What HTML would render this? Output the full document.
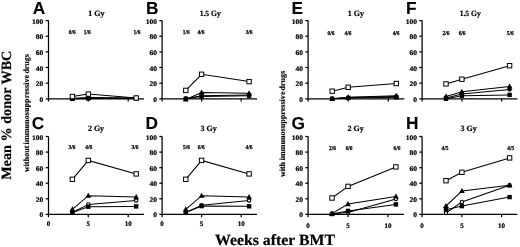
<!DOCTYPE html>
<html><head><meta charset="utf-8"><title>Figure</title>
<style>
html,body{margin:0;padding:0;background:#fff;}
svg{display:block;filter:blur(0.3px)}
text{font-family:"Liberation Serif",serif;font-weight:bold;fill:#000;text-rendering:geometricPrecision}
.yl{font-size:7px;stroke:#000;stroke-width:0.2px}
.xl{font-size:7px;stroke:#000;stroke-width:0.2px}
.fr{font-size:6px;stroke:#000;stroke-width:0.25px}
.tt{font-size:8px;stroke:#000;stroke-width:0.2px}
.pl{font-family:"Liberation Sans",sans-serif;font-size:17.3px;stroke:#000;stroke-width:0.1px}
.big{stroke:#000;stroke-width:0.2px}
.sm{font-size:8px;stroke:#000;stroke-width:0.15px}
</style></head><body>
<svg width="520" height="247" viewBox="0 0 520 247">
<rect width="520" height="247" fill="#fff"/>
<path d="M48.5 20.6V101.6M45.7 98.8H144.1" fill="none" stroke="#000" stroke-width="1.25"/>
<text class="yl" transform="translate(43.4 101.8) scale(1.08 1)" text-anchor="end">0</text>
<path d="M45.7 83.2H48.5" stroke="#000" stroke-width="1.25"/>
<text class="yl" transform="translate(43.4 86.2) scale(1.08 1)" text-anchor="end">20</text>
<path d="M45.7 67.5H48.5" stroke="#000" stroke-width="1.25"/>
<text class="yl" transform="translate(43.4 70.5) scale(1.08 1)" text-anchor="end">40</text>
<path d="M45.7 51.9H48.5" stroke="#000" stroke-width="1.25"/>
<text class="yl" transform="translate(43.4 54.9) scale(1.08 1)" text-anchor="end">60</text>
<path d="M45.7 36.2H48.5" stroke="#000" stroke-width="1.25"/>
<text class="yl" transform="translate(43.4 39.2) scale(1.08 1)" text-anchor="end">80</text>
<path d="M45.7 20.6H48.5" stroke="#000" stroke-width="1.25"/>
<text class="yl" transform="translate(43.4 23.6) scale(1.08 1)" text-anchor="end">100</text>
<path d="M88.3 98.8V101.6" stroke="#000" stroke-width="1.25"/>
<path d="M128.2 98.8V101.6" stroke="#000" stroke-width="1.25"/>
<text class="pl" x="32.8" y="14.1">A</text>
<text class="tt" transform="translate(96.3 16.0) scale(1 1)" text-anchor="middle">1 Gy</text>
<text class="fr" transform="translate(72.3 33.8) scale(0.9 1)" text-anchor="middle">0/6</text>
<text class="fr" transform="translate(87.2 33.8) scale(0.9 1)" text-anchor="middle">1/6</text>
<text class="fr" transform="translate(136.9 33.8) scale(0.9 1)" text-anchor="middle">1/6</text>
<polyline points="72.4,98.4 88.3,98.0 136.2,98.2" fill="none" stroke="#000" stroke-width="1.05"/>
<circle cx="72.4" cy="98.4" r="1.65" fill="#000" stroke="#000" stroke-width="1.1"/>
<circle cx="88.3" cy="98.0" r="1.65" fill="#000" stroke="#000" stroke-width="1.1"/>
<circle cx="136.2" cy="98.2" r="1.65" fill="#000" stroke="#000" stroke-width="1.1"/>
<polyline points="72.4,98.8 88.3,98.4 136.2,98.4" fill="none" stroke="#000" stroke-width="1.05"/>
<rect x="70.2" y="96.6" width="4.4" height="4.4" fill="#000"/>
<rect x="86.1" y="96.2" width="4.4" height="4.4" fill="#000"/>
<rect x="134.0" y="96.2" width="4.4" height="4.4" fill="#000"/>
<polyline points="72.4,98.4 88.3,97.6 136.2,98.0" fill="none" stroke="#000" stroke-width="1.05"/>
<path d="M72.4 95.4L75.3 100.5H69.5Z" fill="#000"/>
<path d="M88.3 94.6L91.2 99.7H85.4Z" fill="#000"/>
<path d="M136.2 95.0L139.1 100.1H133.3Z" fill="#000"/>
<polyline points="72.4,96.5 88.3,94.1 136.2,98.0" fill="none" stroke="#000" stroke-width="1.05"/>
<rect x="70.2" y="94.3" width="4.4" height="4.4" fill="#fff" stroke="#000" stroke-width="1"/>
<rect x="86.1" y="91.9" width="4.4" height="4.4" fill="#fff" stroke="#000" stroke-width="1"/>
<rect x="134.0" y="95.8" width="4.4" height="4.4" fill="#fff" stroke="#000" stroke-width="1"/>
<path d="M162.1 20.6V101.6M159.3 98.8H257.0" fill="none" stroke="#000" stroke-width="1.25"/>
<text class="yl" transform="translate(157.0 101.8) scale(1.08 1)" text-anchor="end">0</text>
<path d="M159.3 83.2H162.1" stroke="#000" stroke-width="1.25"/>
<text class="yl" transform="translate(157.0 86.2) scale(1.08 1)" text-anchor="end">20</text>
<path d="M159.3 67.5H162.1" stroke="#000" stroke-width="1.25"/>
<text class="yl" transform="translate(157.0 70.5) scale(1.08 1)" text-anchor="end">40</text>
<path d="M159.3 51.9H162.1" stroke="#000" stroke-width="1.25"/>
<text class="yl" transform="translate(157.0 54.9) scale(1.08 1)" text-anchor="end">60</text>
<path d="M159.3 36.2H162.1" stroke="#000" stroke-width="1.25"/>
<text class="yl" transform="translate(157.0 39.2) scale(1.08 1)" text-anchor="end">80</text>
<path d="M159.3 20.6H162.1" stroke="#000" stroke-width="1.25"/>
<text class="yl" transform="translate(157.0 23.6) scale(1.08 1)" text-anchor="end">100</text>
<path d="M201.6 98.8V101.6" stroke="#000" stroke-width="1.25"/>
<path d="M241.2 98.8V101.6" stroke="#000" stroke-width="1.25"/>
<text class="pl" x="145.9" y="14.1">B</text>
<text class="tt" transform="translate(210.2 16.0) scale(0.95 1)" text-anchor="middle">1.5 Gy</text>
<text class="fr" transform="translate(186.3 33.8) scale(0.9 1)" text-anchor="middle">1/6</text>
<text class="fr" transform="translate(200.9 33.8) scale(0.9 1)" text-anchor="middle">4/6</text>
<text class="fr" transform="translate(249.1 33.8) scale(0.9 1)" text-anchor="middle">3/6</text>
<polyline points="185.8,98.8 201.6,96.5 249.1,95.7" fill="none" stroke="#000" stroke-width="1.05"/>
<rect x="183.6" y="96.6" width="4.4" height="4.4" fill="#000"/>
<rect x="199.4" y="94.3" width="4.4" height="4.4" fill="#000"/>
<rect x="246.9" y="93.5" width="4.4" height="4.4" fill="#000"/>
<polyline points="185.8,99.5 201.6,92.5 249.1,93.3" fill="none" stroke="#000" stroke-width="1.05"/>
<path d="M185.8 96.5L188.7 101.6H182.9Z" fill="#000"/>
<path d="M201.6 89.5L204.5 94.6H198.7Z" fill="#000"/>
<path d="M249.1 90.3L252.0 95.4H246.2Z" fill="#000"/>
<polyline points="185.8,98.4 201.6,95.7 249.1,94.9" fill="none" stroke="#000" stroke-width="1.05"/>
<circle cx="185.8" cy="98.4" r="1.65" fill="#000" stroke="#000" stroke-width="1.1"/>
<circle cx="201.6" cy="95.7" r="1.65" fill="#000" stroke="#000" stroke-width="1.1"/>
<circle cx="249.1" cy="94.9" r="1.65" fill="#000" stroke="#000" stroke-width="1.1"/>
<polyline points="185.8,90.4 201.6,74.3 249.1,81.6" fill="none" stroke="#000" stroke-width="1.05"/>
<rect x="183.6" y="88.2" width="4.4" height="4.4" fill="#fff" stroke="#000" stroke-width="1"/>
<rect x="199.4" y="72.1" width="4.4" height="4.4" fill="#fff" stroke="#000" stroke-width="1"/>
<rect x="246.9" y="79.4" width="4.4" height="4.4" fill="#fff" stroke="#000" stroke-width="1"/>
<path d="M48.5 136.5V217.2M45.7 214.4H144.1" fill="none" stroke="#000" stroke-width="1.25"/>
<text class="yl" transform="translate(43.4 217.4) scale(1.08 1)" text-anchor="end">0</text>
<path d="M45.7 198.8H48.5" stroke="#000" stroke-width="1.25"/>
<text class="yl" transform="translate(43.4 201.8) scale(1.08 1)" text-anchor="end">20</text>
<path d="M45.7 183.2H48.5" stroke="#000" stroke-width="1.25"/>
<text class="yl" transform="translate(43.4 186.2) scale(1.08 1)" text-anchor="end">40</text>
<path d="M45.7 167.7H48.5" stroke="#000" stroke-width="1.25"/>
<text class="yl" transform="translate(43.4 170.7) scale(1.08 1)" text-anchor="end">60</text>
<path d="M45.7 152.1H48.5" stroke="#000" stroke-width="1.25"/>
<text class="yl" transform="translate(43.4 155.1) scale(1.08 1)" text-anchor="end">80</text>
<path d="M45.7 136.5H48.5" stroke="#000" stroke-width="1.25"/>
<text class="yl" transform="translate(43.4 139.5) scale(1.08 1)" text-anchor="end">100</text>
<path d="M88.3 214.4V217.2" stroke="#000" stroke-width="1.25"/>
<path d="M128.2 214.4V217.2" stroke="#000" stroke-width="1.25"/>
<text class="pl" x="31.8" y="128.8">C</text>
<text class="tt" transform="translate(96.0 131.3) scale(1 1)" text-anchor="middle">2 Gy</text>
<text class="fr" transform="translate(72.0 149.4) scale(0.9 1)" text-anchor="middle">3/6</text>
<text class="fr" transform="translate(88.8 149.4) scale(0.9 1)" text-anchor="middle">4/6</text>
<text class="fr" transform="translate(135.0 149.4) scale(0.9 1)" text-anchor="middle">3/6</text>
<polyline points="72.4,212.5 88.3,204.4 136.2,200.5" fill="none" stroke="#000" stroke-width="1.05"/>
<circle cx="72.4" cy="212.5" r="1.65" fill="#fff" stroke="#000" stroke-width="1.1"/>
<circle cx="88.3" cy="204.4" r="1.65" fill="#fff" stroke="#000" stroke-width="1.1"/>
<circle cx="136.2" cy="200.5" r="1.65" fill="#fff" stroke="#000" stroke-width="1.1"/>
<polyline points="72.4,212.5 88.3,206.7 136.2,206.4" fill="none" stroke="#000" stroke-width="1.05"/>
<rect x="70.2" y="210.3" width="4.4" height="4.4" fill="#000"/>
<rect x="86.1" y="204.5" width="4.4" height="4.4" fill="#000"/>
<rect x="134.0" y="204.2" width="4.4" height="4.4" fill="#000"/>
<polyline points="72.4,209.3 88.3,195.7 136.2,197.1" fill="none" stroke="#000" stroke-width="1.05"/>
<path d="M72.4 206.3L75.3 211.4H69.5Z" fill="#000"/>
<path d="M88.3 192.7L91.2 197.8H85.4Z" fill="#000"/>
<path d="M136.2 194.1L139.1 199.2H133.3Z" fill="#000"/>
<polyline points="72.4,179.3 88.3,160.4 136.2,173.9" fill="none" stroke="#000" stroke-width="1.05"/>
<rect x="70.2" y="177.1" width="4.4" height="4.4" fill="#fff" stroke="#000" stroke-width="1"/>
<rect x="86.1" y="158.2" width="4.4" height="4.4" fill="#fff" stroke="#000" stroke-width="1"/>
<rect x="134.0" y="171.7" width="4.4" height="4.4" fill="#fff" stroke="#000" stroke-width="1"/>
<path d="M162.1 136.5V217.2M159.3 214.4H257.0" fill="none" stroke="#000" stroke-width="1.25"/>
<text class="yl" transform="translate(157.0 217.4) scale(1.08 1)" text-anchor="end">0</text>
<path d="M159.3 198.8H162.1" stroke="#000" stroke-width="1.25"/>
<text class="yl" transform="translate(157.0 201.8) scale(1.08 1)" text-anchor="end">20</text>
<path d="M159.3 183.2H162.1" stroke="#000" stroke-width="1.25"/>
<text class="yl" transform="translate(157.0 186.2) scale(1.08 1)" text-anchor="end">40</text>
<path d="M159.3 167.7H162.1" stroke="#000" stroke-width="1.25"/>
<text class="yl" transform="translate(157.0 170.7) scale(1.08 1)" text-anchor="end">60</text>
<path d="M159.3 152.1H162.1" stroke="#000" stroke-width="1.25"/>
<text class="yl" transform="translate(157.0 155.1) scale(1.08 1)" text-anchor="end">80</text>
<path d="M159.3 136.5H162.1" stroke="#000" stroke-width="1.25"/>
<text class="yl" transform="translate(157.0 139.5) scale(1.08 1)" text-anchor="end">100</text>
<path d="M201.6 214.4V217.2" stroke="#000" stroke-width="1.25"/>
<path d="M241.2 214.4V217.2" stroke="#000" stroke-width="1.25"/>
<text class="pl" x="145.4" y="128.8">D</text>
<text class="tt" transform="translate(208.6 131.3) scale(1 1)" text-anchor="middle">3 Gy</text>
<text class="fr" transform="translate(186.5 149.4) scale(0.9 1)" text-anchor="middle">5/6</text>
<text class="fr" transform="translate(201.3 149.4) scale(0.9 1)" text-anchor="middle">6/6</text>
<text class="fr" transform="translate(248.9 149.4) scale(0.9 1)" text-anchor="middle">4/6</text>
<polyline points="185.8,212.5 201.6,205.2 249.1,200.5" fill="none" stroke="#000" stroke-width="1.05"/>
<circle cx="185.8" cy="212.5" r="1.65" fill="#fff" stroke="#000" stroke-width="1.1"/>
<circle cx="201.6" cy="205.2" r="1.65" fill="#fff" stroke="#000" stroke-width="1.1"/>
<circle cx="249.1" cy="200.5" r="1.65" fill="#fff" stroke="#000" stroke-width="1.1"/>
<polyline points="185.8,212.5 201.6,206.1 249.1,206.3" fill="none" stroke="#000" stroke-width="1.05"/>
<rect x="183.6" y="210.3" width="4.4" height="4.4" fill="#000"/>
<rect x="199.4" y="203.9" width="4.4" height="4.4" fill="#000"/>
<rect x="246.9" y="204.1" width="4.4" height="4.4" fill="#000"/>
<polyline points="185.8,209.3 201.6,195.7 249.1,197.1" fill="none" stroke="#000" stroke-width="1.05"/>
<path d="M185.8 206.3L188.7 211.4H182.9Z" fill="#000"/>
<path d="M201.6 192.7L204.5 197.8H198.7Z" fill="#000"/>
<path d="M249.1 194.1L252.0 199.2H246.2Z" fill="#000"/>
<polyline points="185.8,179.3 201.6,160.4 249.1,173.9" fill="none" stroke="#000" stroke-width="1.05"/>
<rect x="183.6" y="177.1" width="4.4" height="4.4" fill="#fff" stroke="#000" stroke-width="1"/>
<rect x="199.4" y="158.2" width="4.4" height="4.4" fill="#fff" stroke="#000" stroke-width="1"/>
<rect x="246.9" y="171.7" width="4.4" height="4.4" fill="#fff" stroke="#000" stroke-width="1"/>
<path d="M308.1 20.6V101.6M305.3 98.8H404.3" fill="none" stroke="#000" stroke-width="1.25"/>
<text class="yl" transform="translate(303.0 101.8) scale(1.08 1)" text-anchor="end">0</text>
<path d="M305.3 83.2H308.1" stroke="#000" stroke-width="1.25"/>
<text class="yl" transform="translate(303.0 86.2) scale(1.08 1)" text-anchor="end">20</text>
<path d="M305.3 67.5H308.1" stroke="#000" stroke-width="1.25"/>
<text class="yl" transform="translate(303.0 70.5) scale(1.08 1)" text-anchor="end">40</text>
<path d="M305.3 51.9H308.1" stroke="#000" stroke-width="1.25"/>
<text class="yl" transform="translate(303.0 54.9) scale(1.08 1)" text-anchor="end">60</text>
<path d="M305.3 36.2H308.1" stroke="#000" stroke-width="1.25"/>
<text class="yl" transform="translate(303.0 39.2) scale(1.08 1)" text-anchor="end">80</text>
<path d="M305.3 20.6H308.1" stroke="#000" stroke-width="1.25"/>
<text class="yl" transform="translate(303.0 23.6) scale(1.08 1)" text-anchor="end">100</text>
<path d="M348.2 98.8V101.6" stroke="#000" stroke-width="1.25"/>
<path d="M388.3 98.8V101.6" stroke="#000" stroke-width="1.25"/>
<text class="pl" x="291.6" y="14.1">E</text>
<text class="tt" transform="translate(355.9 16.0) scale(1 1)" text-anchor="middle">1 Gy</text>
<text class="fr" transform="translate(331.0 35.1) scale(0.9 1)" text-anchor="middle">0/6</text>
<text class="fr" transform="translate(348.0 35.1) scale(0.9 1)" text-anchor="middle">4/6</text>
<text class="fr" transform="translate(396.1 35.1) scale(0.9 1)" text-anchor="middle">4/6</text>
<polyline points="332.2,98.8 348.2,97.6 396.3,96.5" fill="none" stroke="#000" stroke-width="1.05"/>
<circle cx="332.2" cy="98.8" r="1.65" fill="#000" stroke="#000" stroke-width="1.1"/>
<circle cx="348.2" cy="97.6" r="1.65" fill="#000" stroke="#000" stroke-width="1.1"/>
<circle cx="396.3" cy="96.5" r="1.65" fill="#000" stroke="#000" stroke-width="1.1"/>
<polyline points="332.2,98.8 348.2,98.0 396.3,97.2" fill="none" stroke="#000" stroke-width="1.05"/>
<rect x="330.0" y="96.6" width="4.4" height="4.4" fill="#000"/>
<rect x="346.0" y="95.8" width="4.4" height="4.4" fill="#000"/>
<rect x="394.1" y="95.0" width="4.4" height="4.4" fill="#000"/>
<polyline points="332.2,98.8 348.2,97.2 396.3,95.7" fill="none" stroke="#000" stroke-width="1.05"/>
<path d="M332.2 95.8L335.1 100.9H329.3Z" fill="#000"/>
<path d="M348.2 94.2L351.1 99.3H345.3Z" fill="#000"/>
<path d="M396.3 92.7L399.2 97.8H393.4Z" fill="#000"/>
<polyline points="332.2,91.2 348.2,87.3 396.3,83.5" fill="none" stroke="#000" stroke-width="1.05"/>
<rect x="330.0" y="89.0" width="4.4" height="4.4" fill="#fff" stroke="#000" stroke-width="1"/>
<rect x="346.0" y="85.1" width="4.4" height="4.4" fill="#fff" stroke="#000" stroke-width="1"/>
<rect x="394.1" y="81.3" width="4.4" height="4.4" fill="#fff" stroke="#000" stroke-width="1"/>
<path d="M422.1 20.6V101.6M419.3 98.8H517.5" fill="none" stroke="#000" stroke-width="1.25"/>
<text class="yl" transform="translate(417.0 101.8) scale(1.08 1)" text-anchor="end">0</text>
<path d="M419.3 83.2H422.1" stroke="#000" stroke-width="1.25"/>
<text class="yl" transform="translate(417.0 86.2) scale(1.08 1)" text-anchor="end">20</text>
<path d="M419.3 67.5H422.1" stroke="#000" stroke-width="1.25"/>
<text class="yl" transform="translate(417.0 70.5) scale(1.08 1)" text-anchor="end">40</text>
<path d="M419.3 51.9H422.1" stroke="#000" stroke-width="1.25"/>
<text class="yl" transform="translate(417.0 54.9) scale(1.08 1)" text-anchor="end">60</text>
<path d="M419.3 36.2H422.1" stroke="#000" stroke-width="1.25"/>
<text class="yl" transform="translate(417.0 39.2) scale(1.08 1)" text-anchor="end">80</text>
<path d="M419.3 20.6H422.1" stroke="#000" stroke-width="1.25"/>
<text class="yl" transform="translate(417.0 23.6) scale(1.08 1)" text-anchor="end">100</text>
<path d="M461.9 98.8V101.6" stroke="#000" stroke-width="1.25"/>
<path d="M501.6 98.8V101.6" stroke="#000" stroke-width="1.25"/>
<text class="pl" x="406.0" y="14.1">F</text>
<text class="tt" transform="translate(470.2 16.0) scale(0.95 1)" text-anchor="middle">1.5 Gy</text>
<text class="fr" transform="translate(446.0 35.1) scale(0.9 1)" text-anchor="middle">2/6</text>
<text class="fr" transform="translate(462.1 35.1) scale(0.9 1)" text-anchor="middle">6/6</text>
<text class="fr" transform="translate(510.2 35.1) scale(0.9 1)" text-anchor="middle">5/6</text>
<polyline points="446.0,98.0 461.9,94.1 509.6,89.4" fill="none" stroke="#000" stroke-width="1.05"/>
<circle cx="446.0" cy="98.0" r="1.65" fill="#000" stroke="#000" stroke-width="1.1"/>
<circle cx="461.9" cy="94.1" r="1.65" fill="#000" stroke="#000" stroke-width="1.1"/>
<circle cx="509.6" cy="89.4" r="1.65" fill="#000" stroke="#000" stroke-width="1.1"/>
<polyline points="446.0,98.8 461.9,95.7 509.6,94.9" fill="none" stroke="#000" stroke-width="1.05"/>
<rect x="443.8" y="96.6" width="4.4" height="4.4" fill="#000"/>
<rect x="459.7" y="93.5" width="4.4" height="4.4" fill="#000"/>
<rect x="507.4" y="92.7" width="4.4" height="4.4" fill="#000"/>
<polyline points="446.0,96.5 461.9,91.8 509.6,86.4" fill="none" stroke="#000" stroke-width="1.05"/>
<path d="M446.0 93.5L448.9 98.6H443.1Z" fill="#000"/>
<path d="M461.9 88.8L464.8 93.9H459.0Z" fill="#000"/>
<path d="M509.6 83.4L512.5 88.5H506.7Z" fill="#000"/>
<polyline points="446.0,83.9 461.9,79.2 509.6,65.7" fill="none" stroke="#000" stroke-width="1.05"/>
<rect x="443.8" y="81.7" width="4.4" height="4.4" fill="#fff" stroke="#000" stroke-width="1"/>
<rect x="459.7" y="77.0" width="4.4" height="4.4" fill="#fff" stroke="#000" stroke-width="1"/>
<rect x="507.4" y="63.5" width="4.4" height="4.4" fill="#fff" stroke="#000" stroke-width="1"/>
<path d="M308.1 136.5V217.2M305.3 214.4H403.9" fill="none" stroke="#000" stroke-width="1.25"/>
<text class="yl" transform="translate(303.0 217.4) scale(1.08 1)" text-anchor="end">0</text>
<path d="M305.3 198.8H308.1" stroke="#000" stroke-width="1.25"/>
<text class="yl" transform="translate(303.0 201.8) scale(1.08 1)" text-anchor="end">20</text>
<path d="M305.3 183.2H308.1" stroke="#000" stroke-width="1.25"/>
<text class="yl" transform="translate(303.0 186.2) scale(1.08 1)" text-anchor="end">40</text>
<path d="M305.3 167.7H308.1" stroke="#000" stroke-width="1.25"/>
<text class="yl" transform="translate(303.0 170.7) scale(1.08 1)" text-anchor="end">60</text>
<path d="M305.3 152.1H308.1" stroke="#000" stroke-width="1.25"/>
<text class="yl" transform="translate(303.0 155.1) scale(1.08 1)" text-anchor="end">80</text>
<path d="M305.3 136.5H308.1" stroke="#000" stroke-width="1.25"/>
<text class="yl" transform="translate(303.0 139.5) scale(1.08 1)" text-anchor="end">100</text>
<path d="M348.0 214.4V217.2" stroke="#000" stroke-width="1.25"/>
<path d="M387.9 214.4V217.2" stroke="#000" stroke-width="1.25"/>
<text class="pl" x="291.4" y="128.8">G</text>
<text class="tt" transform="translate(355.6 131.3) scale(1 1)" text-anchor="middle">2 Gy</text>
<text class="fr" transform="translate(332.4 149.7) scale(0.9 1)" text-anchor="middle">2/6</text>
<text class="fr" transform="translate(349.1 149.7) scale(0.9 1)" text-anchor="middle">6/6</text>
<text class="fr" transform="translate(397.0 149.7) scale(0.9 1)" text-anchor="middle">6/6</text>
<polyline points="332.0,213.8 348.0,212.5 395.9,199.0" fill="none" stroke="#000" stroke-width="1.05"/>
<circle cx="332.0" cy="213.8" r="1.65" fill="#fff" stroke="#000" stroke-width="1.1"/>
<circle cx="348.0" cy="212.5" r="1.65" fill="#fff" stroke="#000" stroke-width="1.1"/>
<circle cx="395.9" cy="199.0" r="1.65" fill="#fff" stroke="#000" stroke-width="1.1"/>
<polyline points="332.0,214.0 348.0,210.9 395.9,204.4" fill="none" stroke="#000" stroke-width="1.05"/>
<rect x="329.8" y="211.8" width="4.4" height="4.4" fill="#000"/>
<rect x="345.8" y="208.7" width="4.4" height="4.4" fill="#000"/>
<rect x="393.7" y="202.2" width="4.4" height="4.4" fill="#000"/>
<polyline points="332.0,213.6 348.0,204.1 395.9,196.5" fill="none" stroke="#000" stroke-width="1.05"/>
<path d="M332.0 210.6L334.9 215.7H329.1Z" fill="#000"/>
<path d="M348.0 201.1L350.9 206.2H345.1Z" fill="#000"/>
<path d="M395.9 193.5L398.8 198.6H393.0Z" fill="#000"/>
<polyline points="332.0,198.0 348.0,186.4 395.9,166.9" fill="none" stroke="#000" stroke-width="1.05"/>
<rect x="329.8" y="195.8" width="4.4" height="4.4" fill="#fff" stroke="#000" stroke-width="1"/>
<rect x="345.8" y="184.2" width="4.4" height="4.4" fill="#fff" stroke="#000" stroke-width="1"/>
<rect x="393.7" y="164.7" width="4.4" height="4.4" fill="#fff" stroke="#000" stroke-width="1"/>
<path d="M422.1 136.5V217.2M419.3 214.4H517.5" fill="none" stroke="#000" stroke-width="1.25"/>
<text class="yl" transform="translate(417.0 217.4) scale(1.08 1)" text-anchor="end">0</text>
<path d="M419.3 198.8H422.1" stroke="#000" stroke-width="1.25"/>
<text class="yl" transform="translate(417.0 201.8) scale(1.08 1)" text-anchor="end">20</text>
<path d="M419.3 183.2H422.1" stroke="#000" stroke-width="1.25"/>
<text class="yl" transform="translate(417.0 186.2) scale(1.08 1)" text-anchor="end">40</text>
<path d="M419.3 167.7H422.1" stroke="#000" stroke-width="1.25"/>
<text class="yl" transform="translate(417.0 170.7) scale(1.08 1)" text-anchor="end">60</text>
<path d="M419.3 152.1H422.1" stroke="#000" stroke-width="1.25"/>
<text class="yl" transform="translate(417.0 155.1) scale(1.08 1)" text-anchor="end">80</text>
<path d="M419.3 136.5H422.1" stroke="#000" stroke-width="1.25"/>
<text class="yl" transform="translate(417.0 139.5) scale(1.08 1)" text-anchor="end">100</text>
<path d="M461.9 214.4V217.2" stroke="#000" stroke-width="1.25"/>
<path d="M501.6 214.4V217.2" stroke="#000" stroke-width="1.25"/>
<text class="pl" x="405.9" y="128.8">H</text>
<text class="tt" transform="translate(468.6 131.3) scale(1 1)" text-anchor="middle">3 Gy</text>
<text class="fr" transform="translate(445.0 149.7) scale(0.9 1)" text-anchor="middle">4/5</text>
<text class="fr" transform="translate(510.7 149.7) scale(0.9 1)" text-anchor="middle">4/5</text>
<polyline points="446.0,213.0 461.9,201.9 509.6,185.3" fill="none" stroke="#000" stroke-width="1.05"/>
<circle cx="446.0" cy="213.0" r="1.65" fill="#fff" stroke="#000" stroke-width="1.1"/>
<circle cx="461.9" cy="201.9" r="1.65" fill="#fff" stroke="#000" stroke-width="1.1"/>
<circle cx="509.6" cy="185.3" r="1.65" fill="#fff" stroke="#000" stroke-width="1.1"/>
<polyline points="446.0,209.7 461.9,206.1 509.6,197.1" fill="none" stroke="#000" stroke-width="1.05"/>
<rect x="443.8" y="207.5" width="4.4" height="4.4" fill="#000"/>
<rect x="459.7" y="203.9" width="4.4" height="4.4" fill="#000"/>
<rect x="507.4" y="194.9" width="4.4" height="4.4" fill="#000"/>
<polyline points="446.0,206.0 461.9,190.9 509.6,185.3" fill="none" stroke="#000" stroke-width="1.05"/>
<path d="M446.0 203.0L448.9 208.1H443.1Z" fill="#000"/>
<path d="M461.9 187.9L464.8 193.0H459.0Z" fill="#000"/>
<path d="M509.6 182.3L512.5 187.4H506.7Z" fill="#000"/>
<polyline points="446.0,180.7 461.9,172.3 509.6,157.9" fill="none" stroke="#000" stroke-width="1.05"/>
<rect x="443.8" y="178.5" width="4.4" height="4.4" fill="#fff" stroke="#000" stroke-width="1"/>
<rect x="459.7" y="170.1" width="4.4" height="4.4" fill="#fff" stroke="#000" stroke-width="1"/>
<rect x="507.4" y="155.7" width="4.4" height="4.4" fill="#fff" stroke="#000" stroke-width="1"/>
<text class="xl" x="48.5" y="226.2" text-anchor="middle">0</text>
<text class="xl" x="88.3" y="226.2" text-anchor="middle">5</text>
<text class="xl" x="128.2" y="226.2" text-anchor="middle">10</text>
<text class="xl" x="162.1" y="226.2" text-anchor="middle">0</text>
<text class="xl" x="201.6" y="226.2" text-anchor="middle">5</text>
<text class="xl" x="241.2" y="226.2" text-anchor="middle">10</text>
<text class="xl" x="308.1" y="227.5" text-anchor="middle">0</text>
<text class="xl" x="348.0" y="227.5" text-anchor="middle">5</text>
<text class="xl" x="387.9" y="227.5" text-anchor="middle">10</text>
<text class="xl" x="422.1" y="227.5" text-anchor="middle">0</text>
<text class="xl" x="461.9" y="227.5" text-anchor="middle">5</text>
<text class="xl" x="501.6" y="227.5" text-anchor="middle">10</text>
<text class="big" transform="translate(275 244.5) scale(1.02 1)" text-anchor="middle" font-size="15.5">Weeks after BMT</text>
<text class="big" transform="translate(11.4 115.2) rotate(-90)" text-anchor="middle" font-size="14.2">Mean % donor WBC</text>
<text class="sm" transform="translate(28.8 171.9) rotate(-90)" textLength="26.2" lengthAdjust="spacingAndGlyphs">without</text>
<text class="sm" transform="translate(28.8 144.4) rotate(-90)" textLength="69.6" lengthAdjust="spacingAndGlyphs">immunosuppressive</text>
<text class="sm" transform="translate(28.8 73.6) rotate(-90)" textLength="19.3" lengthAdjust="spacingAndGlyphs">drugs</text>
<text class="sm" transform="translate(285.2 176.9) rotate(-90)" textLength="14.8" lengthAdjust="spacingAndGlyphs">with</text>
<text class="sm" transform="translate(285.2 160.3) rotate(-90)" textLength="68.8" lengthAdjust="spacingAndGlyphs">immunosuppressive</text>
<text class="sm" transform="translate(285.2 90.4) rotate(-90)" textLength="19.4" lengthAdjust="spacingAndGlyphs">drugs</text>
</svg>
</body></html>
